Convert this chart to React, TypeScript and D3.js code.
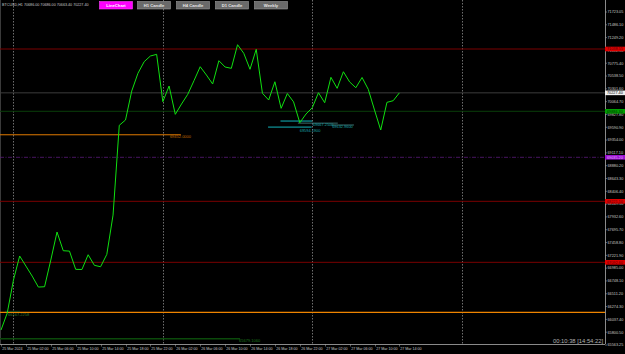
import React from 'react';
import * as d3 from 'd3';

const W = 625;
const H = 354;

const titleText = 'BTCUSD,H1  70686.00 70686.00 70663.40 70227.40';
const buttons = ['LineChart', 'H1 Candle', 'H4 Candle', 'D1 Candle', 'Weekly'];

const closes = [
  65840, 66154, 66765, 67209, 67024, 66839, 66635, 66641, 67135, 67653,
  67307, 67300, 66963, 66960, 67233, 67037, 67011, 67240, 67967, 69627,
  69725, 70261, 70589, 70804, 70909, 70940, 70064, 70354, 69830, 70021,
  70200, 70452, 70711, 70557, 70391, 70822, 70705, 70681, 71118, 70959,
  70663, 71033, 70219, 70095, 70433, 69941, 70215, 70060, 69675, 69836,
  69952, 70230, 70045, 70515, 70311, 70618, 70430, 70322, 70512, 70293,
  69910, 69540, 70052, 70082, 70227.4,
];

const timeLabels = [
  '25 Mar 2024', '25 Mar 02:00', '25 Mar 06:00', '25 Mar 10:00', '25 Mar 14:00',
  '25 Mar 18:00', '25 Mar 22:00', '26 Mar 02:00', '26 Mar 06:00', '26 Mar 10:00',
  '26 Mar 14:00', '26 Mar 18:00', '26 Mar 22:00', '27 Mar 02:00', '27 Mar 06:00',
  '27 Mar 10:00', '27 Mar 14:00',
];
const timeLabelStep = 4;
const daySeparators = [2, 26, 50, 74];

const priceTicks = [
  71723.05, 71486.1, 71249.2, 71012.3, 70775.4, 70538.5, 70301.6, 70064.7,
  69827.8, 69590.9, 69354.0, 69117.1, 68880.2, 68643.3, 68406.4, 68169.5,
  67932.6, 67695.7, 67458.8, 67221.9, 66985.0, 66748.1, 66511.2, 66274.3,
  66037.4, 65800.5, 65563.25,
];

const bidPrice = 70227.4;
const redLevels = [71038.55, 68221.1, 67092.6];
const greenLevel = 69886.3;
const purpleLevel = 69035.2;
const orangeShortLevel = 69452.0;
const orangeShortEnd = 28.9;
const orangeLongLevel = 66167.2258;
const greenBottomLevel = 65679.106;
const greenBottomEnd = 38.4;

const tealLevels = [69706.0, 69667.25, 69632.96, 69594.19];
const tealStarts = [44.9, 47.7, 53.1, 42.9];
const tealEnds = [50.0, 54.1, 56.7, 49.9];
const tealLabelled = [false, true, true, true];
const tealLabelAt = [0, 50.1, 53.2, 48.0];

const timerText = '00:10:38 [14:54:22]';

const FONT = 'Liberation Sans, Arial, sans-serif';

export default function App() {
  const plotRight = 605;
  const plotBottom = 344;
  const x = d3.scaleLinear().domain([0, 64]).range([1, 1 + 64 * 6.225]);
  const y = d3
    .scaleLinear()
    .domain([priceTicks[priceTicks.length - 1], priceTicks[0]])
    .range([345, 12]);

  const line = d3
    .line<number>()
    .x((_, i) => x(i))
    .y((d) => y(d));

  const fmt2 = (v: number) => v.toFixed(2);
  const fmt4 = (v: number) => v.toFixed(4);

  const buttonX = [99, 137, 176, 215, 254];
  const buttonW = 33;
  const tealLabelDy = [0, 2.4, 3.0, 4.6];

  const rightLabel = (price: number, fill: string, textFill: string, key: string) => (
    <g key={key}>
      <rect x={plotRight} y={y(price) - 2.3} width={20} height={4.6} fill={fill} />
      <text
        x={plotRight + 2}
        y={y(price)}
        dy="0.35em"
        fontSize={3.8}
        fontFamily={FONT}
        fill={textFill}
      >
        {fmt2(price)}
      </text>
    </g>
  );

  return (
    <svg
      width={W}
      height={H}
      style={{ position: 'absolute', left: 0, top: 0, background: '#000' }}
    >
      <rect x={0} y={0} width={W} height={H} fill="#000" />
      <line x1={0.5} x2={0.5} y1={0} y2={plotBottom} stroke="#3a3a3a" />

      {daySeparators.map((d) => (
        <line
          key={'sep' + d}
          x1={Math.round(x(d)) + 0.5}
          x2={Math.round(x(d)) + 0.5}
          y1={0}
          y2={plotBottom}
          stroke="#8a8a8a"
          strokeWidth={0.8}
          strokeDasharray="1.5,1.5"
        />
      ))}

      {redLevels.map((p, i) => (
        <line key={'red' + i} x1={0} x2={plotRight} y1={y(p)} y2={y(p)} stroke="#7a0000" strokeWidth={1} />
      ))}
      <line x1={0} x2={plotRight} y1={y(bidPrice)} y2={y(bidPrice)} stroke="#3c3c3c" strokeWidth={1} />
      <line x1={0} x2={plotRight} y1={y(greenLevel)} y2={y(greenLevel)} stroke="#0a3f0a" strokeWidth={1} />
      <line
        x1={0}
        x2={plotRight}
        y1={y(purpleLevel)}
        y2={y(purpleLevel)}
        stroke="#5a1a7a"
        strokeWidth={0.8}
        strokeDasharray="4,1.5,1,1.5"
      />
      <line
        x1={0}
        x2={x(orangeShortEnd)}
        y1={y(orangeShortLevel)}
        y2={y(orangeShortLevel)}
        stroke="#e07a00"
        strokeWidth={1}
      />
      <text
        x={x(orangeShortEnd) - 11}
        y={y(orangeShortLevel) + 3.3}
        fontSize={4}
        fontFamily={FONT}
        fill="#c06a00"
      >
        {fmt4(orangeShortLevel)}
      </text>
      <line
        x1={0}
        x2={plotRight}
        y1={y(orangeLongLevel)}
        y2={y(orangeLongLevel)}
        stroke="#ee8400"
        strokeWidth={1.2}
      />
      <rect x={5} y={y(orangeLongLevel) - 1.5} width={15} height={1} fill="#1e4a1e" />
      <text x={8} y={y(orangeLongLevel) + 3.6} fontSize={4} fontFamily={FONT} fill="#2f7a2f">
        {fmt4(orangeLongLevel)}
      </text>
      <line
        x1={0}
        x2={x(greenBottomEnd)}
        y1={y(greenBottomLevel)}
        y2={y(greenBottomLevel)}
        stroke="#0b4a0b"
        strokeWidth={1.6}
      />
      <text
        x={x(greenBottomEnd) - 1}
        y={y(greenBottomLevel) + 3}
        fontSize={4}
        fontFamily={FONT}
        fill="#1f7a1f"
      >
        {fmt4(greenBottomLevel)}
      </text>

      {tealLevels.map((p, i) => (
        <line
          key={'teal' + i}
          x1={x(tealStarts[i])}
          x2={x(tealEnds[i])}
          y1={y(p)}
          y2={y(p)}
          stroke={i === 1 || i === 2 ? '#3f7878' : '#14c8d0'}
          strokeWidth={0.9}
        />
      ))}
      {tealLevels.map((p, i) =>
        tealLabelled[i] ? (
          <text
            key={'tealt' + i}
            x={x(tealLabelAt[i])}
            y={y(p) + tealLabelDy[i]}
            fontSize={3.9}
            fontFamily={FONT}
            fill="#1aa5aa"
          >
            {fmt4(p)}
          </text>
        ) : null
      )}

      <path d={line(closes) || ''} fill="none" stroke="#10e010" strokeWidth={1} strokeLinejoin="round" />

      <line x1={plotRight + 0.5} x2={plotRight + 0.5} y1={0} y2={plotBottom} stroke="#8a8a8a" />
      <line x1={0} x2={plotRight} y1={plotBottom + 0.5} y2={plotBottom + 0.5} stroke="#8a8a8a" />

      {priceTicks.map((p, i) => (
        <g key={'pt' + i}>
          <line x1={plotRight} x2={plotRight + 2} y1={y(p)} y2={y(p)} stroke="#9a9a9a" strokeWidth={0.6} />
          <text x={plotRight + 2.5} y={y(p)} dy="0.35em" fontSize={3.8} fontFamily={FONT} fill="#c8c8c8">
            {fmt2(p)}
          </text>
        </g>
      ))}

      {redLevels.map((p, i) => rightLabel(p, '#e00000', '#5a0000', 'rl' + i))}
      {rightLabel(bidPrice, '#f0f0f0', '#000000', 'bid')}
      {rightLabel(greenLevel, '#00a000', '#003000', 'gl')}
      {rightLabel(purpleLevel, '#9a10d0', '#e0b0ff', 'pl')}

      {timeLabels.map((t, i) => {
        const xx = Math.round(x(i * timeLabelStep)) + 0.5;
        return (
          <g key={'tl' + i}>
            <line x1={xx} x2={xx} y1={plotBottom} y2={plotBottom + 2.5} stroke="#9a9a9a" strokeWidth={0.6} />
            <text x={xx + 0.8} y={350.2} fontSize={3.6} fontFamily={FONT} fill="#c8c8c8">
              {t}
            </text>
          </g>
        );
      })}

      <text x={2} y={6} fontSize={3.7} fontFamily={FONT} fill="#c8c8c8">
        {titleText}
      </text>

      {buttons.map((b, i) => (
        <g key={'btn' + i}>
          <rect
            x={buttonX[i] + 0.5}
            y={1.5}
            width={buttonW}
            height={7.5}
            fill={i === 0 ? '#ff00ff' : '#6a6a6a'}
            stroke={i === 0 ? '#ff40ff' : '#9a9a9a'}
            strokeWidth={0.6}
          />
          <text
            x={buttonX[i] + 0.5 + buttonW / 2}
            y={5.3}
            dy="0.35em"
            textAnchor="middle"
            fontSize={4.2}
            fontWeight="bold"
            fontFamily={FONT}
            fill={i === 0 ? '#ffffff' : '#e6e6e6'}
          >
            {b}
          </text>
        </g>
      ))}

      <text x={603} y={341} dy="0.35em" textAnchor="end" fontSize={5.8} fontFamily={FONT} fill="#b4b4b4">
        {timerText}
      </text>
    </svg>
  );
}
